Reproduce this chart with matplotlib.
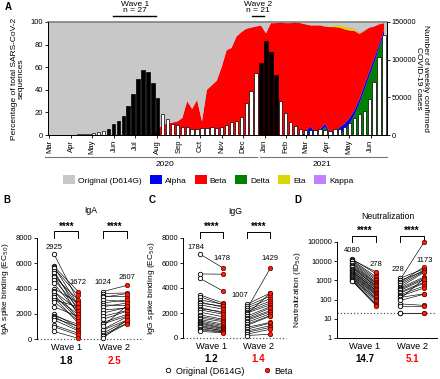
import numpy as np
import pandas as pd
import matplotlib.pyplot as plt
import matplotlib.transforms as mtransforms
from matplotlib.lines import Line2D
from matplotlib.patches import Patch

plt.rcParams['font.family'] = ['Liberation Sans', 'DejaVu Sans']
plt.rcParams['axes.linewidth'] = 0.7

W, H = 440, 379


def fx(px):
    return px / W


def fy(py):
    return 1 - py / H


# ---------------- panel A: weekly data, week 0 = first week of March 2020
cases = [0, 0, 100, 300, 400, 500, 700, 1000, 1500, 2500,
         3500, 5300, 8000, 14000, 18500, 25000, 38000, 55000, 75000, 86000,
         83500, 69000, 49000, 28000, 21500, 14500, 13000, 10500, 10500, 8000,
         8000, 9000, 9000, 10500, 9000, 10000, 13500, 17000, 18500, 24000,
         42000, 58000, 82000, 95000, 125000, 110000, 79000, 45000, 29000, 17000,
         12000, 8000, 7000, 6500, 7000, 8000, 6500, 5500, 8000, 8000,
         10500, 16000, 22000, 28000, 32000, 48000, 71000, 104000, 133000]
wave_weeks = list(range(12, 23)) + list(range(43, 47))

beta = [0] * 22 + [5, 9, 10, 11, 12, 15, 30, 23, 31, 12, 40, 44, 48, 60, 75, 77,
                   87, 91, 94, 95, 96, 97, 90, 99, 99, 100, 99, 99, 100, 99, 96,
                   89, 95, 92, 86, 93.5, 92.5, 88, 83.5, 77.5, 70, 57.5, 48, 39,
                   28, 18, 6]
alpha = [0] * 52 + [2, 8, 2, 2, 3, 1, 3, 6, 6, 5, 4, 4, 4, 4, 4, 3, 4]
delta = [0] * 55 + [3, 7, 1, 0, 1, 4, 10, 18, 28, 40, 52, 64, 77, 89]
eta = [0] * 57 + [0.5, 1.5, 2, 2.5, 2, 1.5, 1, 0.5] + [0] * 4
kappa = [0] * 61 + [0.5] * 4 + [0] * 4

weeks = np.arange(len(cases))
original = 100 - (np.array(beta) + np.array(alpha) + np.array(delta)
                  + np.array(eta) + np.array(kappa))

variant_names = ['Original (D614G)', 'Alpha', 'Beta', 'Delta', 'Eta', 'Kappa']
variant_colors = {'Original (D614G)': '#C8C8C8', 'Alpha': '#0000FF', 'Beta': '#FF0000',
                  'Delta': '#008000', 'Eta': '#D8D800', 'Kappa': '#C080FF'}

# ---------------- panels B-D: paired titres
iga_w1_orig = [6730, 5750, 5700, 5600, 5400, 5200, 5000, 4950, 4700, 4400, 4000, 3800, 3750, 3500,
               3350, 3300, 3100, 2950, 2550, 1950, 1850, 1770, 1640, 1500, 1100, 980, 600]
iga_w1_beta = [2950, 3750, 2700, 3450, 2200, 2600, 1900, 3100, 2450, 2050, 2850, 1650, 2300, 1550,
               1950, 1250, 2550, 1450, 1780, 950, 1150, 750, 1000, 650, 450, 300, 50]
iga_w2_orig = [3750, 3600, 3400, 3300, 3100, 2850, 2700, 2550, 2300, 2050, 1800, 1550, 1300, 1200,
               1000, 750, 700, 450, 320, 200, 50]
iga_w2_beta = [4250, 3650, 3350, 3600, 2950, 3100, 2650, 2850, 2450, 2500, 2250, 2200, 1950, 1800,
               2650, 1750, 1500, 1450, 1250, 1200, 1500]

igg_w1_orig = [6730, 5130, 4790, 3460, 3320, 3060, 2900, 2790, 2660, 2450, 2350, 2260, 2070, 1860,
               1730, 1600, 1500, 1380, 1280, 1200, 1120, 1010, 950, 850, 750, 670, 530]
igg_w1_beta = [5600, 5100, 3750, 2800, 2650, 2700, 2450, 2550, 2300, 2000, 2100, 1900, 1700, 1500,
               1400, 1300, 1100, 1000, 900, 800, 750, 680, 550, 600, 500, 450, 420]
igg_w2_orig = [2700, 2550, 2300, 2400, 2250, 2100, 2000, 1900, 1750, 1600, 1500, 1400, 1250, 1100,
               1000, 850, 700, 550, 450, 300, 200]
igg_w2_beta = [3600, 3350, 5600, 3150, 2950, 2800, 2650, 3600, 2500, 2400, 2200, 2100, 1950, 1800,
               1750, 1250, 1200, 1000, 850, 700, 300]

neut_w1_orig = [12500, 11500, 11000, 10000, 8500, 7600, 6600, 5600, 5000, 4800, 4100, 3500, 3400, 3000,
                2750, 2500, 2250, 2000, 1800, 1600, 1500, 1300, 1230, 1100, 1000, 930, 890]
neut_w1_beta = [2200, 2750, 1500, 1200, 1000, 800, 700, 660, 560, 450, 500, 400, 350, 280,
                300, 250, 220, 200, 180, 160, 130, 110, 100, 80, 60, 50, 48]
neut_w2_orig = [1300, 1100, 1000, 800, 700, 580, 450, 400, 340, 300, 250, 220, 180, 150,
                130, 110, 90, 60, 48, 20, 20]
neut_w2_beta = [4000, 95000, 3000, 5000, 3500, 2900, 2600, 1500, 1300, 1100, 800, 700, 500, 400,
                200, 1200, 190, 50, 48, 20, 20]

gm_labels = {
    'IgA': [('2925', 0, 7250), ('1672', 1, 4500), ('1024', 2, 4500), ('2607', 3, 4850)],
    'IgG': [('1784', -0.15, 7250), ('1478', 0.95, 6330), ('1007', 1.7, 3400), ('1429', 3, 6330)],
    'Neutralization': [('4080', 0, 35000), ('278', 1, 6600), ('228', 1.9, 3600), ('1173', 3.05, 11300)],
}
fold_changes = {'IgA': ('1.8', '2.5'), 'IgG': ('1.2', '1.4'), 'Neutralization': ('14.7', '5.1')}

fig = plt.figure(figsize=(W / 100, H / 100), dpi=100)

# ================= panel A
axA = fig.add_axes([fx(48), fy(135), (387 - 48) / W, (135 - 22) / H])
axA.stackplot(weeks, delta, alpha, beta, eta, kappa, original,
              colors=[variant_colors[k] for k in ['Delta', 'Alpha', 'Beta', 'Eta', 'Kappa', 'Original (D614G)']],
              lw=0)
axA.set_facecolor('#C8C8C8')
axA.set_xlim(-0.3, 68.6)
axA.set_ylim(0, 100)
axA.set_yticks(range(0, 101, 20))
axA.tick_params(axis='y', labelsize=5.5, length=2, width=0.6, pad=1.5)
axA.set_ylabel('Percentage of total SARS-CoV-2\nsequences', fontsize=6, labelpad=4, linespacing=1.1)
axA.spines['top'].set_color('#808080')
axA.spines['top'].set_linewidth(1.2)

month_starts = pd.date_range('2020-03-01', '2021-06-01', freq='MS')
month_pos = (month_starts - pd.Timestamp('2020-03-01')).days / 7
axA.set_xticks(month_pos)
axA.set_xticklabels(month_starts.strftime('%b'), rotation=90, fontsize=5.5)
axA.tick_params(axis='x', length=2, width=0.6, pad=1.5)

axC2 = axA.twinx()
bar_colors = ['black' if w in wave_weeks else 'white' for w in weeks]
axC2.bar(weeks, cases, width=0.7, color=bar_colors, edgecolor='black', lw=0.5)
axC2.set_ylim(0, 150000)
axC2.set_yticks([0, 50000, 100000, 150000])
axC2.set_yticklabels(['0', '50000', '100000', '150000'])
axC2.tick_params(axis='y', labelsize=5.3, length=2, width=0.6, pad=1.5)
axC2.set_ylabel('Number of weekly confirmed\nCOVID-19 cases', fontsize=6, rotation=270,
                labelpad=9, linespacing=1.1)
axC2.spines['top'].set_visible(False)

# wave markers above A
fig.text(fx(135), fy(5), 'Wave 1', fontsize=6, ha='center', va='center')
fig.text(fx(135), fy(11), 'n = 27', fontsize=6, ha='center', va='center')
fig.add_artist(Line2D([fx(113), fx(156)], [fy(15.5)] * 2, color='black', lw=1))
fig.text(fx(258), fy(5), 'Wave 2', fontsize=6, ha='center', va='center')
fig.text(fx(258), fy(11), 'n = 21', fontsize=6, ha='center', va='center')
fig.add_artist(Line2D([fx(252), fx(264)], [fy(15.5)] * 2, color='black', lw=1))

# years
fig.add_artist(Line2D([fx(45), fx(257)], [fy(157)] * 2, color='#777777', lw=0.8))
fig.add_artist(Line2D([fx(260), fx(387)], [fy(157)] * 2, color='#777777', lw=0.8))
fig.text(fx(165), fy(164), '2020', fontsize=6, ha='center', va='center')
fig.text(fx(322), fy(164), '2021', fontsize=6, ha='center', va='center')

handles = [Patch(facecolor=variant_colors[k], edgecolor='none', label=k) for k in variant_names]
fig.legend(handles=handles, loc='center', bbox_to_anchor=(fx(208), fy(180)), ncol=6,
           frameon=False, fontsize=6, handlelength=1.45, handleheight=1.2,
           handletextpad=0.35, columnspacing=1.0, borderpad=0)

# ================= panels B-D
def paired(ax, name, w1o, w1b, w2o, w2b):
    for xo, xb, orig, bet in [(0, 1, w1o, w1b), (2, 3, w2o, w2b)]:
        for o, b in zip(orig, bet):
            ax.plot([xo, xb], [o, b], color='black', lw=0.45, zorder=1)
        ax.plot([xo] * len(orig), orig, 'o', ls='none', mfc='white', mec='black',
                ms=3.2, mew=0.6, zorder=3, clip_on=False)
        ax.plot([xb] * len(bet), bet, 'o', ls='none', mfc='#FF1A00', mec='#5a0000',
                ms=3.2, mew=0.5, zorder=3, clip_on=False)
    for txt, x, y in gm_labels[name]:
        ax.text(x, y, txt, fontsize=5.5, ha='center', va='center')
    trans = mtransforms.blended_transform_factory(ax.transData, ax.transAxes)
    for x0 in (0, 2):
        ax.plot([x0, x0, x0 + 1, x0 + 1], [1.0, 1.065, 1.065, 1.0], color='black', lw=0.7,
                transform=trans, clip_on=False)
        ax.text(x0 + 0.5, 1.115, '****', fontsize=7, fontweight='bold', ha='center',
                va='center', transform=trans)
    ax.text(1.5, 1.27, name, fontsize=6.2, ha='center', va='center', transform=trans)
    f1, f2 = fold_changes[name]
    ax.text(0.5, -0.215, f1, fontsize=7, fontweight='bold', ha='center', va='center',
            transform=trans, color='black')
    ax.text(2.5, -0.215, f2, fontsize=7, fontweight='bold', ha='center', va='center',
            transform=trans, color='#FF0000')
    ax.set_xticks([0.5, 2.5])
    ax.set_xticklabels(['Wave 1', 'Wave 2'], fontsize=6.7)
    ax.tick_params(axis='x', length=0, pad=3)
    ax.tick_params(axis='y', labelsize=5.5, length=2, width=0.6, pad=1.5)
    ax.spines['top'].set_visible(False)
    ax.spines['right'].set_visible(False)


axB = fig.add_axes([fx(37), fy(339), 106 / W, 101 / H])
paired(axB, 'IgA', iga_w1_orig, iga_w1_beta, iga_w2_orig, iga_w2_beta)
axB.set_xlim(-0.7, 3.66)
axB.set_ylim(0, 8000)
axB.set_yticks(range(0, 8001, 2000))
axB.spines['bottom'].set_visible(False)
axB.axhline(0, color='#555555', ls=':', lw=0.9, clip_on=False)
axB.set_ylabel('IgA spike binding (EC$_{50}$)', fontsize=6, labelpad=3)

axC = fig.add_axes([fx(183), fy(338), 103 / W, 100 / H])
paired(axC, 'IgG', igg_w1_orig, igg_w1_beta, igg_w2_orig, igg_w2_beta)
axC.set_xlim(-0.7, 3.66)
axC.set_ylim(0, 8000)
axC.set_yticks(range(0, 8001, 2000))
axC.spines['bottom'].set_visible(False)
axC.axhline(0, color='#555555', ls=':', lw=0.9, clip_on=False)
axC.set_ylabel('IgG spike binding (EC$_{50}$)', fontsize=6, labelpad=3)

axD = fig.add_axes([fx(337), fy(338), 100 / W, 96 / H])
axD.set_yscale('log')
paired(axD, 'Neutralization', neut_w1_orig, neut_w1_beta, neut_w2_orig, neut_w2_beta)
axD.set_xlim(-0.65, 3.55)
axD.set_ylim(1, 100000)
axD.set_yticks([1, 10, 100, 1000, 10000, 100000])
axD.set_yticklabels(['1', '10', '100', '1000', '10000', '100000'])
axD.minorticks_off()
axD.axhline(20, color='#555555', ls=':', lw=0.9)
axD.set_ylabel('Neutralization (ID$_{50}$)', fontsize=6, labelpad=3)

# legend for C
leg_handles = [Line2D([], [], marker='o', ls='none', mfc='white', mec='black', ms=3.2, mew=0.6,
                      label='Original (D614G)'),
               Line2D([], [], marker='o', ls='none', mfc='#FF1A00', mec='#5a0000', ms=3.2, mew=0.5,
                      label='Beta')]
fig.legend(handles=leg_handles, loc='center', bbox_to_anchor=(fx(229), fy(371)), ncol=2,
           frameon=False, fontsize=6.5, handlelength=0.8, handletextpad=0.4,
           columnspacing=2.2, borderpad=0)

# panel letters
for letter, x, y in [('A', 8, 7), ('B', 7, 200), ('C', 152, 200), ('D', 298, 200)]:
    fig.text(fx(x), fy(y), letter, fontsize=7, fontweight='bold', ha='center', va='center')

fig.savefig('out.png', dpi=100)
